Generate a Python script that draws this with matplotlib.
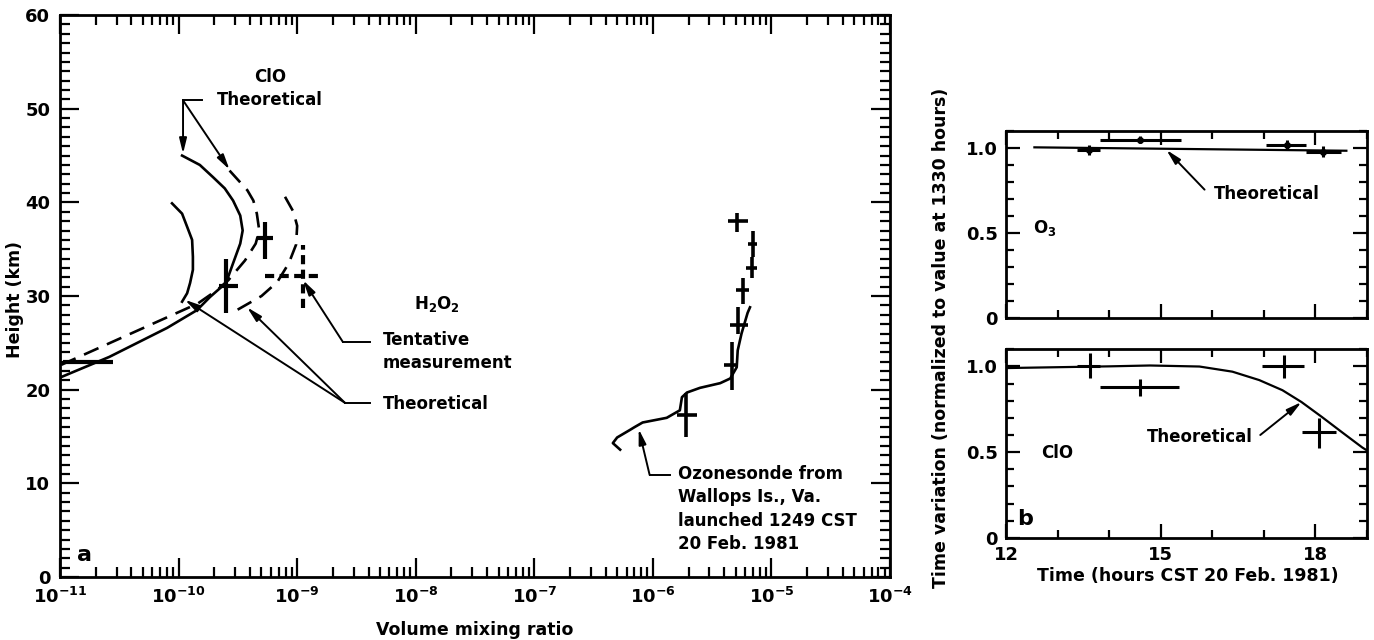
import numpy as np
import matplotlib as mpl
mpl.use('Agg')
import matplotlib.pyplot as plt
from matplotlib.ticker import MultipleLocator, LogLocator, NullFormatter

plt.rcParams['font.family'] = ['DejaVu Sans']
plt.rcParams['font.weight'] = 'bold'
plt.rcParams['mathtext.default'] = 'bf'

# ---- panel a: vertical profiles (height km vs volume mixing ratio) ----
clo_solid_h = [45.0, 44.0, 42.7, 41.5, 40.2, 38.6, 37.0, 35.6, 33.5, 31.4,
               29.9, 28.5, 26.6, 23.5, 21.3]
clo_solid_v = [1.07e-10, 1.51e-10, 1.95e-10, 2.45e-10, 2.88e-10, 3.31e-10,
               3.47e-10, 3.31e-10, 2.88e-10, 2.51e-10, 1.84e-10, 1.43e-10,
               8.0e-11, 2.6e-11, 1.0e-11]
clo_dash_h = [43.4, 41.3, 40.2, 38.8, 37.0, 35.6, 33.8, 31.7, 30.6, 29.2, 22.6]
clo_dash_v = [2.69e-10, 3.8e-10, 4.27e-10, 4.57e-10, 4.79e-10, 4.47e-10,
              3.63e-10, 2.63e-10, 2.09e-10, 1.45e-10, 1.0e-11]
h2o2_solid_h = [39.9, 38.8, 37.4, 36.0, 34.2, 32.8, 31.4, 30.3, 29.4]
h2o2_solid_v = [8.8e-11, 1.07e-10, 1.18e-10, 1.30e-10, 1.32e-10, 1.32e-10,
                1.25e-10, 1.18e-10, 1.07e-10]
h2o2_dash_h = [40.6, 39.0, 37.5, 35.5, 33.5, 31.5, 30.0, 28.5]
h2o2_dash_v = [7.9e-10, 9.3e-10, 1.0e-9, 9.8e-10, 8.5e-10, 6.8e-10, 5.0e-10, 3.1e-10]

# ClO measurements: value, low, high / height, low, high
clo_meas_v = [2.5e-10, 5.4e-10, 1.7e-11]
clo_meas_vlo = [2.2e-10, 4.6e-10, 1.05e-11]
clo_meas_vhi = [3.15e-10, 6.3e-10, 2.8e-11]
clo_meas_h = [31.1, 36.2, 23.0]
clo_meas_hlo = [28.2, 34.0, 23.0]
clo_meas_hhi = [34.0, 37.9, 23.0]

# tentative H2O2 measurement
h2o2_meas_v = [1.12e-9]
h2o2_meas_vlo = [5.4e-10]
h2o2_meas_vhi = [1.66e-9]
h2o2_meas_h = [32.1]
h2o2_meas_hlo = [28.7]
h2o2_meas_hhi = [35.4]

# ozone measurements
o3_meas_v = [5.1e-6, 6.97e-6, 6.84e-6, 5.74e-6, 5.2e-6, 4.63e-6, 1.9e-6]
o3_meas_vlo = [4.3e-6, 6.3e-6, 6.1e-6, 5.0e-6, 4.5e-6, 4.0e-6, 1.6e-6]
o3_meas_vhi = [6.3e-6, 7.6e-6, 7.6e-6, 6.5e-6, 6.3e-6, 5.1e-6, 2.35e-6]
o3_meas_h = [38.0, 35.6, 33.0, 30.6, 26.9, 22.6, 17.3]
o3_meas_hlo = [36.8, 34.2, 31.9, 29.2, 26.0, 20.0, 14.9]
o3_meas_hhi = [38.9, 37.0, 34.2, 31.9, 28.8, 25.1, 19.6]

# ozonesonde profile
sonde_h = [28.8, 28.2, 26.0, 24.2, 22.4, 21.2, 20.7, 20.2, 19.7, 19.2, 17.8,
           17.0, 16.5, 16.0, 15.7, 14.9, 14.3, 13.6]
sonde_v = [6.6e-6, 6.3e-6, 5.6e-6, 5.2e-6, 5.1e-6, 4.5e-6, 3.7e-6, 2.5e-6,
           1.94e-6, 1.76e-6, 1.69e-6, 1.31e-6, 8.2e-7, 7.0e-7, 6.4e-7, 5.0e-7,
           4.6e-7, 5.3e-7]

decades = [1e-11, 1e-10, 1e-9, 1e-8, 1e-7, 1e-6, 1e-5, 1e-4]
decade_labels = [r'$10^{-11}$', r'$10^{-10}$', r'$10^{-9}$', r'$10^{-8}$',
                 r'$10^{-7}$', r'$10^{-6}$', r'$10^{-5}$', r'$10^{-4}$']

# ---- panel b: diurnal variation ----
o3_t = [13.6, 14.6, 17.45, 18.15]
o3_tlo = [13.37, 13.82, 17.05, 17.82]
o3_thi = [13.82, 15.4, 17.82, 18.5]
o3_val = [0.99, 1.05, 1.02, 0.98]
o3_err = [0.03, 0.02, 0.03, 0.03]
o3_theory_t = [12.55, 18.6]
o3_theory = [1.005, 0.985]

clo_t = [13.62, 14.6, 17.4, 18.07]
clo_tlo = [13.37, 13.82, 16.97, 17.74]
clo_thi = [13.82, 15.36, 17.78, 18.4]
clo_val = [1.0, 0.88, 1.0, 0.615]
clo_vlo = [0.93, 0.83, 0.93, 0.527]
clo_vhi = [1.08, 0.925, 1.065, 0.70]
clo_theory_t = [12.0, 13.0, 14.0, 14.79, 15.75, 16.39, 16.91, 17.36, 17.73,
                18.13, 18.52, 18.91, 19.0]
clo_theory = [0.99, 0.995, 1.0, 1.005, 0.999, 0.969, 0.92, 0.861, 0.792,
              0.704, 0.615, 0.527, 0.51]


def cross(ax, x, xlo, xhi, y, ylo, yhi, lw, ls='-'):
    x = np.array(x)
    y = np.array(y)
    xerr = [x - np.array(xlo), np.array(xhi) - x]
    yerr = [y - np.array(ylo), np.array(yhi) - y]
    eb = ax.errorbar(x, y, xerr=xerr, yerr=yerr, fmt='none', ecolor='k',
                     elinewidth=lw, capsize=0)
    for lc in eb[2]:
        lc.set_linestyle(ls)
        lc.set_capstyle('butt')
    return eb


arrow = dict(arrowstyle='-|>,head_length=0.9,head_width=0.22', color='k',
             lw=1.4, shrinkA=0, shrinkB=0)
FS = 12

fig = plt.figure(figsize=(13.74, 6.4), dpi=100)

# ---------------- panel a ----------------
ax = fig.add_axes([0.0437, 0.0984, 0.604, 0.878])
ax.set_xscale('log')
ax.set_xlim(1e-11, 1e-4)
ax.set_ylim(0, 60)

ax.plot(clo_solid_v, clo_solid_h, 'k-', lw=1.9)
ax.plot(clo_dash_v, clo_dash_h, 'k-', lw=1.9, dashes=(6, 3.5))
ax.plot(h2o2_solid_v, h2o2_solid_h, 'k-', lw=1.9)
ax.plot(h2o2_dash_v, h2o2_dash_h, 'k-', lw=1.9, dashes=(6, 3.5))
ax.plot(sonde_v, sonde_h, 'k-', lw=1.9)

cross(ax, clo_meas_v, clo_meas_vlo, clo_meas_vhi,
      clo_meas_h, clo_meas_hlo, clo_meas_hhi, 3.0)
cross(ax, h2o2_meas_v, h2o2_meas_vlo, h2o2_meas_vhi,
      h2o2_meas_h, h2o2_meas_hlo, h2o2_meas_hhi, 3.0, ls=(0, (2.2, 1.3)))
cross(ax, o3_meas_v, o3_meas_vlo, o3_meas_vhi,
      o3_meas_h, o3_meas_hlo, o3_meas_hhi, 2.6)

ax.set_xticks(decades)
ax.set_xticklabels(decade_labels, fontsize=14)
ax.xaxis.set_minor_locator(LogLocator(base=10, subs=np.arange(2, 10), numticks=20))
ax.xaxis.set_minor_formatter(NullFormatter())
ax.yaxis.set_major_locator(MultipleLocator(10))
ax.yaxis.set_minor_locator(MultipleLocator(1))
ax.tick_params(which='both', direction='in', top=True, right=True, width=1.6,
               labelsize=13)
ax.tick_params(which='major', length=14, pad=7)
ax.tick_params(which='minor', length=7)
for s in ax.spines.values():
    s.set_linewidth(2)

# annotations
ax.text(5.9e-10, 53.4, 'ClO', ha='center', va='center', fontsize=FS)
ax.text(5.9e-10, 50.9, 'Theoretical', ha='center', va='center', fontsize=FS)
ax.plot([1.09e-10, 1.57e-10], [50.9, 50.9], 'k-', lw=1.4)
ax.annotate('', xy=(1.09e-10, 45.2), xytext=(1.09e-10, 50.9), arrowprops=arrow)
ax.annotate('', xy=(2.69e-10, 43.5), xytext=(1.09e-10, 50.9), arrowprops=arrow)

ax.text(1.5e-8, 29.2, r'H$_2$O$_2$', ha='center', va='center', fontsize=FS)

ax.text(5.3e-9, 24.1, 'Tentative\nmeasurement', ha='left', va='center',
        fontsize=FS, linespacing=1.35)
ax.plot([2.43e-9, 4.1e-9], [25.1, 25.1], 'k-', lw=1.4)
ax.annotate('', xy=(1.12e-9, 31.7), xytext=(2.43e-9, 25.1), arrowprops=arrow)

ax.text(5.3e-9, 18.5, 'Theoretical', ha='left', va='center', fontsize=FS)
ax.plot([2.53e-9, 4.1e-9], [18.6, 18.6], 'k-', lw=1.4)
ax.annotate('', xy=(1.13e-10, 29.6), xytext=(2.53e-9, 18.6), arrowprops=arrow)
ax.annotate('', xy=(3.78e-10, 28.8), xytext=(2.53e-9, 18.6), arrowprops=arrow)

ax.text(1.63e-6, 12.0, 'Ozonesonde from\nWallops Is., Va.\nlaunched 1249 CST\n20 Feb. 1981',
        ha='left', va='top', fontsize=FS, linespacing=1.4)
ax.plot([1.39e-6, 9.4e-7], [10.9, 10.9], 'k-', lw=1.4)
ax.annotate('', xy=(7.6e-7, 15.8), xytext=(9.4e-7, 10.9), arrowprops=arrow)

ax.text(1.62e-11, 2.4, 'a', ha='center', va='center', fontsize=16)

fig.text(15 / 1374, 1 - 300 / 640, 'Height (km)', rotation=90, ha='center',
         va='center', fontsize=12.5)
fig.text(475 / 1374, 1 - 630 / 640, 'Volume mixing ratio', ha='center',
         va='center', fontsize=12.5)

# ---------------- panel b ----------------
axt = fig.add_axes([0.7322, 0.503, 0.2627, 0.292])
axb = fig.add_axes([0.7322, 0.1594, 0.2627, 0.295])

for a in (axt, axb):
    a.set_xlim(12, 19)
    a.set_ylim(0, 1.1)
    a.xaxis.set_major_locator(MultipleLocator(3))
    a.xaxis.set_minor_locator(MultipleLocator(1))
    a.yaxis.set_major_locator(MultipleLocator(0.5))
    a.yaxis.set_minor_locator(MultipleLocator(0.1))
    a.tick_params(which='both', direction='in', top=True, right=True, width=1.6,
                  labelsize=13)
    a.tick_params(which='major', length=10, pad=6)
    a.tick_params(which='minor', length=6)
    a.set_yticks([0, 0.5, 1.0])
    a.set_yticklabels(['0', '0.5', '1.0'])
    for s in a.spines.values():
        s.set_linewidth(2)

axt.set_xticklabels([])
axb.set_xticks([12, 15, 18])
axb.set_xticklabels(['12', '15', '18'])

# O3
axt.plot(o3_theory_t, o3_theory, 'k-', lw=1.6)
o3_t_arr = np.array(o3_t)
axt.errorbar(o3_t, o3_val,
             xerr=[o3_t_arr - np.array(o3_tlo), np.array(o3_thi) - o3_t_arr],
             yerr=o3_err, fmt='o', ms=4, color='k', ecolor='k',
             elinewidth=2.2, capsize=0)
axt.text(17.05, 0.73, 'Theoretical', ha='center', va='center', fontsize=FS)
axt.annotate('', xy=(15.11, 0.99), xytext=(15.85, 0.756), arrowprops=arrow)
axt.text(12.75, 0.53, r'O$_3$', ha='center', va='center', fontsize=FS)

# ClO
axb.plot(clo_theory_t, clo_theory, 'k-', lw=1.6)
cross(axb, clo_t, clo_tlo, clo_thi, clo_val, clo_vlo, clo_vhi, 2.2)
axb.text(15.75, 0.586, 'Theoretical', ha='center', va='center', fontsize=FS)
axb.annotate('', xy=(17.73, 0.792), xytext=(16.93, 0.60), arrowprops=arrow)
axb.text(13.0, 0.497, 'ClO', ha='center', va='center', fontsize=FS)
axb.text(12.37, 0.11, 'b', ha='center', va='center', fontsize=16)

fig.text(1188 / 1374, 1 - 576 / 640, 'Time (hours CST 20 Feb. 1981)',
         ha='center', va='center', fontsize=12.5)
fig.text(941 / 1374, 1 - 338 / 640,
         'Time variation (normalized to value at 1330 hours)',
         rotation=90, ha='center', va='center', fontsize=12.5)

fig.savefig('out.png', dpi=100)
